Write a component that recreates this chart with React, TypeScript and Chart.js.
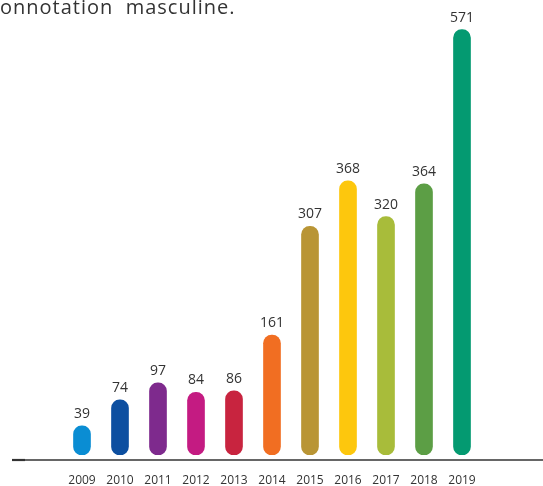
import React, { useEffect, useRef } from "react";
import { Chart, registerables } from "chart.js";

Chart.register(...registerables);

const years = ["2009", "2010", "2011", "2012", "2013", "2014", "2015", "2016", "2017", "2018", "2019"];
const counts = [39, 74, 97, 84, 86, 161, 307, 368, 320, 364, 571];
const barColors = [
  "#0A8DD3", "#0D4FA0", "#7E2A8D", "#C41B82", "#C8243F", "#F16E22",
  "#B99535", "#FDC70D", "#A8BC3A", "#5C9E45", "#049A71",
];
const titleText = "onnotation  masculine.";

const FONT = "'Open Sans', 'Noto Sans', sans-serif";

const valueLabels = {
  id: "valueLabels",
  afterDatasetsDraw(chart: any) {
    const ctx = chart.ctx;
    const meta = chart.getDatasetMeta(0);
    ctx.save();
    ctx.fillStyle = "#333333";
    ctx.font = `14px ${FONT}`;
    ctx.textAlign = "center";
    ctx.textBaseline = "middle";
    meta.data.forEach((bar: any, i: number) => {
      ctx.fillText(String(counts[i]), bar.x, bar.y - 12);
    });
    ctx.restore();
  },
  afterDraw(chart: any) {
    const ctx = chart.ctx;
    const y = chart.chartArea.bottom + 5;
    ctx.save();
    ctx.strokeStyle = "#333333";
    ctx.lineWidth = 1.3;
    ctx.beginPath();
    ctx.moveTo(12, y);
    ctx.lineTo(543, y);
    ctx.stroke();
    ctx.lineWidth = 2.2;
    ctx.beginPath();
    ctx.moveTo(12, y);
    ctx.lineTo(25, y);
    ctx.stroke();
    ctx.restore();
  },
};

export default function App() {
  const ref = useRef<HTMLCanvasElement | null>(null);
  useEffect(() => {
    if (!ref.current) return;
    const chart = new Chart(ref.current, {
      type: "bar",
      data: {
        labels: years,
        datasets: [
          {
            data: counts,
            backgroundColor: barColors,
            borderRadius: 9,
            borderSkipped: false,
            barThickness: 17,
          },
        ],
      },
      options: {
        animation: false,
        responsive: false,
        layout: { padding: { left: 63, right: 62, top: 8, bottom: 0 } },
        plugins: { legend: { display: false }, tooltip: { enabled: false } },
        scales: {
          x: {
            grid: { display: false, drawTicks: false },
            border: { display: false },
            ticks: {
              color: "#333333",
              font: { size: 12, family: FONT },
              padding: 18,
              maxRotation: 0,
              autoSkip: false,
            },
            afterFit(scale: any) {
              scale.height = 31;
            },
          },
          y: { display: false, min: 0, max: 600 },
        },
      },
      plugins: [valueLabels],
    });
    return () => chart.destroy();
  }, []);
  return (
    <div style={{ position: "fixed", left: 0, top: 0, width: 543, height: 486, background: "#fff", overflow: "hidden" }}>
      <div
        style={{
          position: "absolute",
          left: 0,
          top: -5,
          fontFamily: FONT,
          fontSize: 20,
          color: "#333333",
          whiteSpace: "pre",
          lineHeight: "24px",
          letterSpacing: "1px",
        }}
      >
        {titleText}
      </div>
      <canvas ref={ref} width={543} height={486} style={{ display: "block" }} />
    </div>
  );
}
